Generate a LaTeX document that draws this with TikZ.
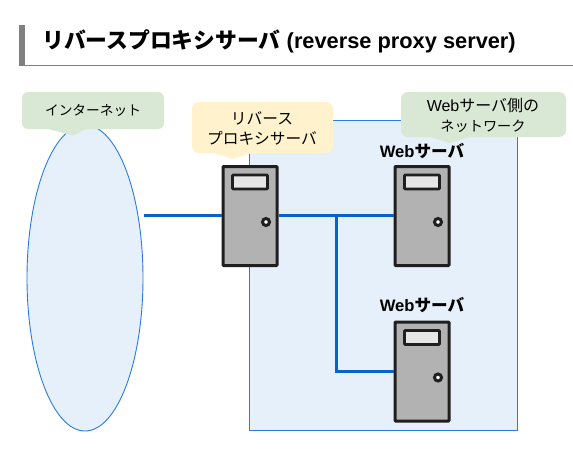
\documentclass[tikz,border=0pt]{standalone}
\usepackage{fontspec}
\setmainfont{Liberation Sans}
\newfontfamily\jpf{Noto Sans CJK JP}
\newcommand{\jp}[1]{{\jpf #1}}
\usetikzlibrary{calc}
\definecolor{netfill}{HTML}{E5F0FA}
\definecolor{netline}{HTML}{2A7BDE}
\definecolor{linkblue}{HTML}{0563C9}
\definecolor{greenbox}{HTML}{D9E8D5}
\definecolor{yellowbox}{HTML}{FFF2CC}
\definecolor{srvfill}{HTML}{B2B2B2}
\definecolor{winfill}{HTML}{E6E6E6}
\definecolor{srvline}{HTML}{1F1F1F}
\definecolor{barg}{HTML}{808080}
\tikzset{
  x=1pt,y=-1pt,
  srv/.style={draw=srvline,fill=srvfill,line width=3pt,rounded corners=0.8pt,minimum width=54pt,minimum height=99pt,inner sep=0pt,outer sep=1.5pt},
  win/.style={draw=srvline,fill=winfill,line width=2.6pt,rounded corners=0.8pt,minimum width=35pt,minimum height=14pt,inner sep=0pt},
  knob/.style={draw=srvline,fill=white,line width=3pt,circle,minimum size=7pt,inner sep=0pt},
  link/.style={draw=linkblue,line width=3pt},
  netarea/.style={draw=netline,fill=netfill,line width=0.9pt},
  callout/.style={text=black,align=center,inner sep=0pt},
  srvlabel/.style={font=\bfseries\fontsize{16.6}{19}\selectfont,inner sep=0pt},
  server/.pic={
    \node[srv] (-box) at (0,0) {};
    \node[win] (-win) at (0,-34) {};
    \node[knob] (-knob) at (16,6) {};
  }
}
\begin{document}
\begin{tikzpicture}
\useasboundingbox (0,0) rectangle (573,459);
% title
\fill[barg] (19,25) rectangle (25,65);
\draw[barg,line width=0.9pt] (19,65) -- (573,65);
\node[anchor=west,inner sep=0pt,font=\bfseries\fontsize{21.8}{25}\selectfont] (title) at (42,41) {{\jpf\bfseries リバースプロキシサーバ} (reverse proxy server)};
% network areas
\draw[netarea] (249,120.5) rectangle (517,430.5);
\draw[netarea] (85,278) ellipse [x radius=58, y radius=153];
% servers
\pic (proxy) at (250,216) {server};
\pic (web1) at (422,216) {server};
\pic (web2) at (422,371.5) {server};
% connectors
\coordinate (inet) at (144,215);
\coordinate (junction) at (336,215);
\coordinate (corner) at (336,371);
\draw[link] (inet) -- (proxy-box.west |- inet);
\draw[link] (proxy-box.east |- junction) -- (web1-box.west |- junction);
\draw[link] (junction) -- (corner) -- (web2-box.west |- corner);
% labels
\node[srvlabel] (l1) at (422,151) {Web{\jpf\bfseries サーバ}};
\node[srvlabel] (l2) at (422,305) {Web{\jpf\bfseries サーバ}};
% callouts
\fill[greenbox,rounded corners=6pt] (22,92) rectangle (164,129);
\fill[greenbox] (48,129) -- (73,135.5) -- (86,129) -- cycle;
\node[callout,font=\fontsize{13.7}{20}\selectfont] (c1) at (93,110.5) {\jp{インターネット}};
\fill[yellowbox,rounded corners=7pt] (192,102) rectangle (333,153);
\fill[yellowbox] (214,153) -- (233,159) -- (252,153) -- cycle;
\node[callout,font=\fontsize{15.7}{20}\selectfont] (c2) at (262,128) {\jp{リバース}\\\jp{プロキシサーバ}};
\fill[greenbox,rounded corners=7pt] (401,92) rectangle (566,137);
\fill[greenbox] (430,137) -- (450,143) -- (470,137) -- cycle;
\node[callout,font=\fontsize{16}{20}\selectfont] (c3) at (483,115) {Web\jp{サーバ側の}\\{\fontsize{14.2}{20}\selectfont\jp{ネットワーク}}};
\end{tikzpicture}
\end{document}
